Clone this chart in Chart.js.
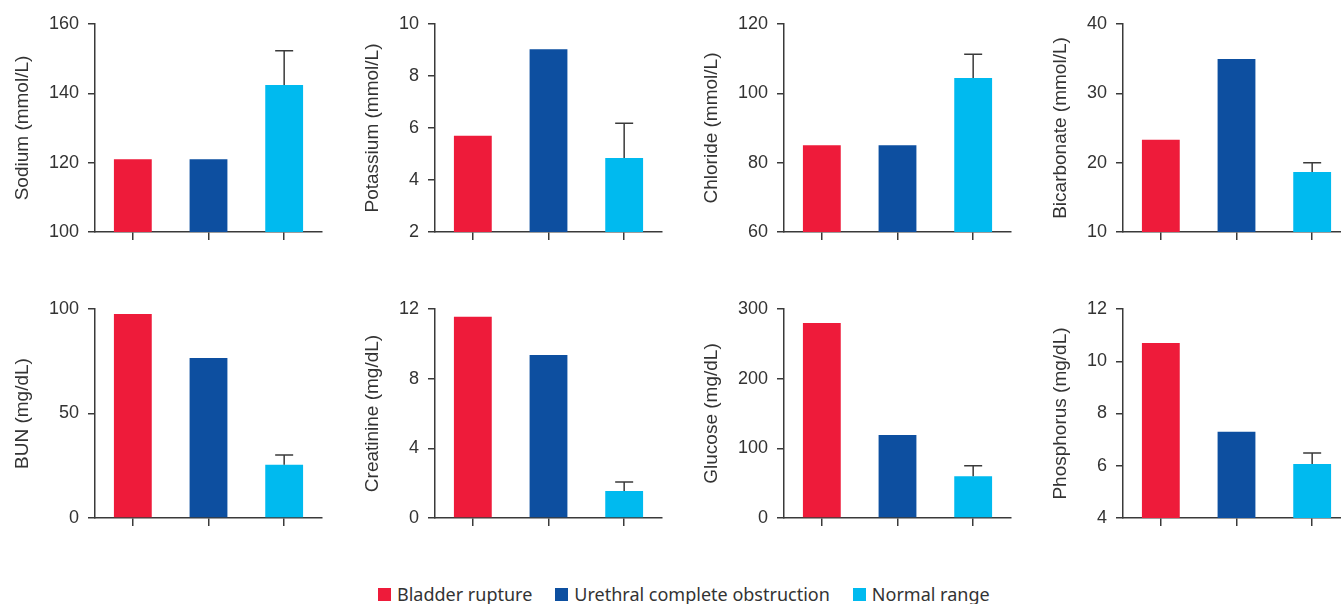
<!DOCTYPE html>
<html>
<head>
<meta charset="utf-8">
<script src="https://cdn.jsdelivr.net/npm/chart.js@4.4.1/dist/chart.umd.min.js"></script>
<style>
  html, body { margin: 0; padding: 0; background: #fff; width: 1341px; height: 604px; overflow: hidden; position: relative; }
  .panel { position: absolute; }
  .legend { position: absolute; left: 378px; top: 582px; display: flex; align-items: center; line-height: 24px;
            font-family: "Noto Sans", sans-serif; font-size: 18px; color: #333; white-space: nowrap; }
  .legend .item { display: flex; align-items: center; margin-right: 23px; }
  .legend .box { display: inline-block; width: 13px; height: 13px; margin-right: 6px; }
</style>
</head>
<body>
<div class="legend" id="legend"></div>
<script>
// groups (bar colours / legend)
const groups = ['Bladder rupture', 'Urethral complete obstruction', 'Normal range'];
const groupColors = ['#ee1b3a', '#0d4fa0', '#00baef'];

// one panel per analyte
const analytes = ['Sodium (mmol/L)', 'Potassium (mmol/L)', 'Chloride (mmol/L)', 'Bicarbonate (mmol/L)',
                  'BUN (mg/dL)', 'Creatinine (mg/dL)', 'Glucose (mg/dL)', 'Phosphorus (mg/dL)'];
const bladderRupture      = [121,   5.7,  85,    23.3,  97.6, 11.55, 280, 10.7];
const urethralObstruction = [121,   9.03, 85,    34.95, 76.6,  9.36, 119,  7.3];
const normalRange         = [142.4, 4.85, 104.4, 18.65, 25.5,  1.55,  60,  6.07];
const normalRangeSD       = [9.9,   1.33, 6.9,   1.35,  4.6,   0.52,  15,  0.42];

// y axis ticks
const yMin  = [100, 2,  60,  10, 0,   0,  0,   4];
const yMax  = [160, 10, 120, 40, 100, 12, 300, 12];
const yStep = [20,  2,  20,  10, 50,  4,  100, 2];

// layout
const axisLeft = [95, 435, 784, 1123];
const rowTop = [24, 309];
const rowBottom = [232, 518];
const plotWidth = 227;
const xAxisH = 22;
const axisColor = '#3a3a3a';
const textColor = '#333';

Chart.defaults.font.family = '"Liberation Sans", Arial, sans-serif';
Chart.defaults.animation = false;

// upper error bar on the normal range bar
const errorBars = {
    id: 'errorBars',
    afterDatasetsDraw(chart) {
        const ds = chart.data.datasets[0];
        const meta = chart.getDatasetMeta(0);
        const y = chart.scales.y;
        const ctx = chart.ctx;
        ctx.save();
        ctx.strokeStyle = axisColor;
        ctx.lineWidth = 1.5;
        meta.data.forEach((bar, i) => {
            if (!ds.errorPlus[i]) return;
            const yTop = y.getPixelForValue(ds.data[i] + ds.errorPlus[i]);
            ctx.beginPath();
            ctx.moveTo(bar.x, bar.y);
            ctx.lineTo(bar.x, yTop);
            ctx.moveTo(bar.x - 9, yTop);
            ctx.lineTo(bar.x + 9, yTop);
            ctx.stroke();
        });
        ctx.restore();
    }
};

analytes.forEach((name, i) => {
    const row = Math.floor(i / 4);
    const col = i % 4;
    const top = rowTop[row] - 24;
    const h = rowBottom[row] - rowTop[row] + 24 + xAxisH;
    const w = 95 + plotWidth + 6;

    const div = document.createElement('div');
    div.className = 'panel';
    div.style.left = (axisLeft[col] - 95) + 'px';
    div.style.top = top + 'px';
    const canvas = document.createElement('canvas');
    canvas.width = w;
    canvas.height = h;
    div.appendChild(canvas);
    document.body.appendChild(div);

    // axis title sits a fixed distance left of the widest tick label
    const digits = String(yMax[i]).length;
    const titlePad = 95 - 16 - digits * 10 - 26 - 11.4;

    new Chart(canvas.getContext('2d'), {
        type: 'bar',
        data: {
            labels: ['', '', ''],
            datasets: [{
                data: [bladderRupture[i], urethralObstruction[i], normalRange[i]],
                errorPlus: [0, 0, normalRangeSD[i]],
                backgroundColor: groupColors,
                borderWidth: 0,
                categoryPercentage: 1,
                barPercentage: 0.5
            }]
        },
        options: {
            responsive: false,
            devicePixelRatio: 1,
            layout: { padding: { top: 24, right: 6, bottom: 0, left: 0 } },
            plugins: { legend: { display: false }, tooltip: { enabled: false } },
            scales: {
                x: {
                    grid: { display: true, drawOnChartArea: false, drawTicks: true, tickLength: 8,
                            offset: false, color: axisColor, lineWidth: 1.5 },
                    border: { display: true, color: axisColor, width: 1.5 },
                    ticks: { display: false },
                    afterFit: s => { s.height = xAxisH; }
                },
                y: {
                    min: yMin[i],
                    max: yMax[i],
                    ticks: { stepSize: yStep[i], color: textColor, padding: 9, font: { size: 18 } },
                    grid: { drawOnChartArea: false, drawTicks: true, tickLength: 7, color: axisColor, lineWidth: 1.5 },
                    border: { display: true, color: axisColor, width: 1.5 },
                    title: { display: true, text: name, color: textColor, font: { size: 19 },
                             padding: { top: titlePad, bottom: 0 } },
                    afterFit: s => { s.width = 95; }
                }
            }
        },
        plugins: [errorBars]
    });
});

// legend
const legend = document.getElementById('legend');
groups.forEach((g, k) => {
    const item = document.createElement('div');
    item.className = 'item';
    const box = document.createElement('span');
    box.className = 'box';
    box.style.background = groupColors[k];
    item.appendChild(box);
    item.appendChild(document.createTextNode(g));
    legend.appendChild(item);
});
</script>
</body>
</html>
